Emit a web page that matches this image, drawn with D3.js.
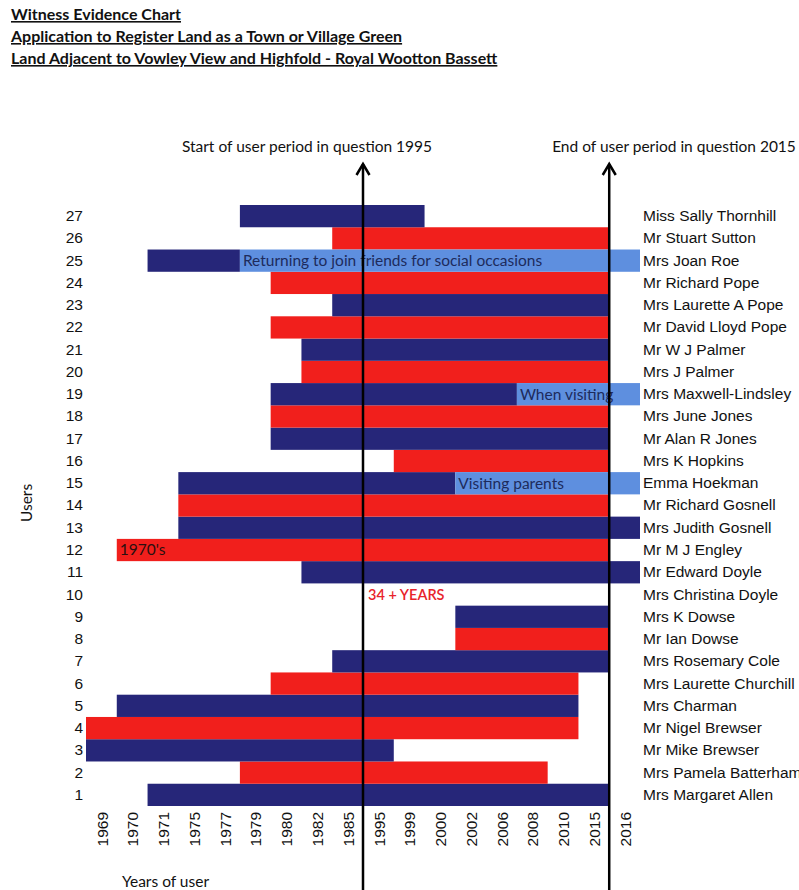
<!DOCTYPE html>
<html>
<head>
<meta charset="utf-8">
<script src="https://cdn.jsdelivr.net/npm/d3@7"></script>
<style>
  body { margin: 0; background: #fff; }
  svg { display: block; font-family: Lato, "Liberation Sans", sans-serif; }
  .title { font-weight: bold; font-size: 16px; text-decoration: underline; fill: #111; }
  .tick text { font-size: 15.5px; fill: #111; }
</style>
</head>
<body>
<svg id="chart" width="799" height="890"></svg>
<script>
// ---- data ----
const years = ['1969', '1970', '1971', '1975', '1977', '1979', '1980', '1982', '1985',
    '1995', '1999', '2000', '2002', '2006', '2008', '2010', '2015', '2016'];

// user 1 .. 27
const userNames = [
    'Mrs Margaret Allen', 'Mrs Pamela Batterham', 'Mr Mike Brewser', 'Mr Nigel Brewser',
    'Mrs Charman', 'Mrs Laurette Churchill', 'Mrs Rosemary Cole', 'Mr Ian Dowse',
    'Mrs K Dowse', 'Mrs Christina Doyle', 'Mr Edward Doyle', 'Mr M J Engley',
    'Mrs Judith Gosnell', 'Mr Richard Gosnell', 'Emma Hoekman', 'Mrs K Hopkins',
    'Mr Alan R Jones', 'Mrs June Jones', 'Mrs Maxwell-Lindsley', 'Mrs J Palmer',
    'Mr W J Palmer', 'Mr David Lloyd Pope', 'Mrs Laurette A Pope', 'Mr Richard Pope',
    'Mrs Joan Roe', 'Mr Stuart Sutton', 'Miss Sally Thornhill'];

const useFrom = ['1971', '1979', '1969', '1969', '1970', '1980', '1985', '2002', '2002', null,
    '1982', '1970', '1975', '1975', '1975', '1999', '1980', '1980', '1980', '1982',
    '1982', '1980', '1985', '1980', '1971', '1985', '1979'];
const useTo = ['2015', '2008', '1995', '2010', '2010', '2010', '2015', '2015', '2015', null,
    '2016', '2015', '2016', '2015', '2000', '2015', '2015', '2015', '2006', '2015',
    '2015', '2015', '2015', '2015', '1977', '2015', '1999'];

// occasional use (light blue)
const visitUser = [25, 19, 15];
const visitFrom = ['1979', '2008', '2002'];
const visitTo = ['2016', '2016', '2016'];
const visitNote = ['Returning to join friends for social occasions', 'When visiting', 'Visiting parents'];

const periodStart = '1995';
const periodEnd = '2015';

const NAVY = '#262679';
const RED = '#f11f1c';
const LIGHT = '#5e8fdf';
const FS = 15.5;

const svg = d3.select('#chart');

const users = d3.range(1, 28);

const x = d3.scaleBand()
    .domain(years)
    .range([86, 640])
    .padding(0);

const y = d3.scaleBand()
    .domain(users.slice().reverse())
    .range([205, 806])
    .padding(0);

// titles
const titles = ['Witness Evidence Chart ',
    'Application to Register Land as a Town or Village Green',
    'Land Adjacent to Vowley View and Highfold - Royal Wootton Bassett'];
svg.selectAll('.title')
    .data(titles)
    .enter().append('text')
    .attr('class', 'title')
    .attr('x', 11)
    .attr('y', (d, i) => 20 + i * 22)
    .text(d => d);

// main user bars, alternating colours
const bars = users
    .map((u, i) => ({ user: u, from: useFrom[i], to: useTo[i] }))
    .filter(d => d.from);

svg.append('g').selectAll('rect')
    .data(bars)
    .enter().append('rect')
    .attr('x', d => x(d.from))
    .attr('y', d => y(d.user))
    .attr('width', d => x(d.to) + x.bandwidth() - x(d.from))
    .attr('height', y.bandwidth())
    .attr('fill', d => d.user % 2 ? NAVY : RED);

const visits = visitUser.map((u, i) => ({ user: u, from: visitFrom[i], to: visitTo[i], note: visitNote[i] }));

const visitG = svg.append('g');
visitG.selectAll('rect')
    .data(visits)
    .enter().append('rect')
    .attr('x', d => x(d.from))
    .attr('y', d => y(d.user))
    .attr('width', d => x(d.to) + x.bandwidth() - x(d.from))
    .attr('height', y.bandwidth())
    .attr('fill', LIGHT);

visitG.selectAll('text')
    .data(visits)
    .enter().append('text')
    .attr('x', d => x(d.from) + 3)
    .attr('y', d => y(d.user) + y.bandwidth() / 2)
    .attr('dy', '0.35em')
    .attr('font-size', FS)
    .attr('fill', '#1d2b5c')
    .text(d => d.note);

svg.append('text')
    .attr('x', x('1970') + 3)
    .attr('y', y(12) + y.bandwidth() / 2)
    .attr('dy', '0.35em')
    .attr('font-size', FS)
    .attr('fill', '#2a1010')
    .text("1970's");

svg.append('text')
    .attr('x', x(periodStart) + 5)
    .attr('y', y(10) + y.bandwidth() / 2)
    .attr('dy', '0.35em')
    .attr('font-size', 14.5)
    .attr('font-weight', 600)
    .attr('fill', '#e8232b')
    .text('34 + YEARS');

// axes (spreadsheet style: no lines)
const yNum = svg.append('g')
    .attr('transform', 'translate(86,0)')
    .call(d3.axisLeft(y).tickSize(0).tickPadding(3));
yNum.select('.domain').remove();

const yName = svg.append('g')
    .attr('transform', 'translate(640,0)')
    .call(d3.axisRight(y).tickSize(0).tickPadding(3).tickFormat(u => userNames[u - 1]));
yName.select('.domain').remove();

const xAxis = svg.append('g')
    .attr('transform', 'translate(0,812)')
    .call(d3.axisBottom(x).tickSize(0));
xAxis.select('.domain').remove();
xAxis.selectAll('.tick text')
    .attr('transform', 'rotate(-90)')
    .attr('text-anchor', 'end')
    .attr('x', 0)
    .attr('y', 0)
    .attr('dx', 0)
    .attr('dy', '0.4em');

svg.append('text')
    .attr('transform', 'translate(32,503) rotate(-90)')
    .attr('text-anchor', 'middle')
    .attr('font-size', FS)
    .attr('fill', '#111')
    .text('Users');

svg.append('text')
    .attr('x', 122)
    .attr('y', 887)
    .attr('font-size', FS)
    .attr('fill', '#111')
    .text('Years of user');

// period arrows
const arrows = [
    { xPos: x(periodStart), label: 'Start of user period in question ' + periodStart, lx: 307 },
    { xPos: x(periodEnd) + x.bandwidth(), label: 'End of user period in question ' + periodEnd, lx: 674 },
];

const arrowG = svg.append('g');
arrows.forEach(a => {
    arrowG.append('line')
        .attr('x1', a.xPos).attr('x2', a.xPos)
        .attr('y1', 164).attr('y2', 890)
        .attr('stroke', '#000')
        .attr('stroke-width', 2.5);
    arrowG.append('path')
        .attr('d', `M${a.xPos - 6.5},${175} L${a.xPos},${164} L${a.xPos + 6.5},${175}`)
        .attr('fill', 'none')
        .attr('stroke', '#000')
        .attr('stroke-width', 2.5);
    arrowG.append('text')
        .attr('x', a.lx)
        .attr('y', 152)
        .attr('text-anchor', 'middle')
        .attr('font-size', FS)
        .attr('fill', '#111')
        .text(a.label);
});
</script>
</body>
</html>
